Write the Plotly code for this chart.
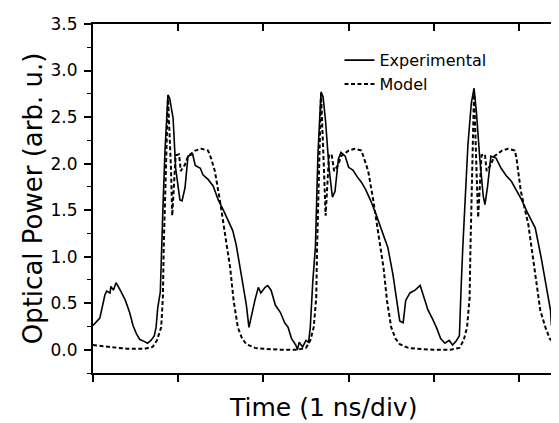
import plotly.graph_objects as go

# Time axis in ns (1 ns per division), optical power in arb. u.
exp_t = [
    0.00, 0.06, 0.08, 0.14, 0.16, 0.20, 0.21, 0.24, 0.27, 0.32, 0.38, 0.43, 0.47,
    0.51, 0.55, 0.60, 0.64, 0.68, 0.72, 0.74, 0.76, 0.79, 0.80, 0.82, 0.845, 0.87,
    0.88, 0.90, 0.94, 0.97, 1.02, 1.045, 1.08, 1.115, 1.17, 1.20, 1.26, 1.29, 1.35,
    1.41, 1.47, 1.53, 1.585, 1.64, 1.68, 1.725, 1.76, 1.80, 1.82, 1.83, 1.90, 1.94,
    1.97, 2.02, 2.05, 2.09, 2.14, 2.20, 2.25, 2.29, 2.33, 2.38, 2.40, 2.42, 2.46,
    2.50, 2.53, 2.55, 2.58, 2.61, 2.64, 2.676, 2.70, 2.73, 2.77, 2.81, 2.84, 2.88,
    2.91, 2.96, 3.00, 3.05, 3.10, 3.15, 3.20, 3.26, 3.32, 3.38, 3.44, 3.46, 3.52,
    3.556, 3.60, 3.64, 3.67, 3.72, 3.78, 3.84, 3.87, 3.93, 3.99, 4.03, 4.08, 4.13,
    4.18, 4.22, 4.26, 4.30, 4.32, 4.34, 4.40, 4.44, 4.472, 4.50, 4.54, 4.58, 4.60,
    4.63, 4.67, 4.73, 4.79, 4.85, 4.91, 4.97, 5.02, 5.10, 5.19, 5.26, 5.32, 5.37,
    5.38, 5.44, 5.50, 5.563,
]
exp_p = [
    0.26, 0.32, 0.34, 0.59, 0.63, 0.61, 0.68, 0.64, 0.72, 0.64, 0.53, 0.40, 0.26,
    0.17, 0.11, 0.09, 0.07, 0.10, 0.15, 0.24, 0.45, 0.62, 1.02, 1.50, 2.14, 2.67,
    2.74, 2.70, 2.49, 1.95, 1.61, 1.60, 1.74, 2.08, 2.10, 1.98, 1.95, 1.88, 1.83,
    1.76, 1.61, 1.50, 1.38, 1.28, 1.13, 0.91, 0.70, 0.48, 0.33, 0.24, 0.53, 0.67,
    0.61, 0.67, 0.69, 0.64, 0.48, 0.40, 0.29, 0.24, 0.12, 0.05, 0.00, 0.08, 0.03,
    0.10, 0.08, 0.24, 0.74, 1.10, 2.10, 2.77, 2.72, 2.45, 1.95, 1.64, 1.70, 2.05,
    2.12, 2.08, 1.96, 1.93, 1.86, 1.80, 1.72, 1.60, 1.46, 1.30, 1.13, 1.10, 0.81,
    0.56, 0.31, 0.29, 0.53, 0.61, 0.64, 0.69, 0.61, 0.43, 0.32, 0.24, 0.12, 0.07,
    0.10, 0.05, 0.09, 0.15, 0.66, 1.10, 2.20, 2.65, 2.81, 2.55, 2.05, 1.65, 1.56,
    1.75, 2.08, 2.06, 1.95, 1.87, 1.81, 1.72, 1.63, 1.47, 1.31, 0.99, 0.70, 0.42,
    0.26, 0.47, 0.56, 0.59,
]

model_t = [
    0.00, 0.10, 0.20, 0.30, 0.40, 0.50, 0.60, 0.70, 0.75, 0.80, 0.82, 0.83, 0.855,
    0.88, 0.915, 0.93, 0.97, 1.01, 1.03, 1.08, 1.115, 1.20, 1.27, 1.35, 1.385, 1.43,
    1.49, 1.55, 1.61, 1.65, 1.70, 1.75, 1.80, 1.90, 2.00, 2.20, 2.40, 2.50, 2.55,
    2.59, 2.62, 2.63, 2.65, 2.676, 2.71, 2.73, 2.77, 2.80, 2.83, 2.88, 2.91, 3.00,
    3.07, 3.15, 3.18, 3.23, 3.29, 3.35, 3.41, 3.45, 3.50, 3.55, 3.60, 3.70, 3.80,
    4.00, 4.20, 4.30, 4.35, 4.39, 4.42, 4.43, 4.45, 4.472, 4.50, 4.52, 4.56, 4.60,
    4.62, 4.67, 4.71, 4.80, 4.87, 4.95, 4.97, 5.02, 5.11, 5.19, 5.25, 5.31, 5.36,
    5.42, 5.50, 5.563,
]
model_p = [
    0.05, 0.04, 0.03, 0.02, 0.01, 0.01, 0.01, 0.03, 0.10, 0.24, 0.56, 1.10, 1.95,
    2.73, 1.95, 1.44, 2.09, 2.10, 1.92, 1.99, 2.08, 2.14, 2.16, 2.14, 2.06, 1.92,
    1.60, 1.24, 0.88, 0.53, 0.24, 0.12, 0.06, 0.02, 0.01, 0.00, 0.00, 0.02, 0.10,
    0.24, 0.56, 1.10, 1.95, 2.75, 1.95, 1.44, 2.09, 2.10, 1.92, 1.99, 2.08, 2.14,
    2.16, 2.14, 2.06, 1.92, 1.60, 1.24, 0.88, 0.53, 0.24, 0.12, 0.06, 0.02, 0.01,
    0.00, 0.00, 0.02, 0.10, 0.24, 0.56, 1.10, 1.95, 2.78, 1.95, 1.42, 2.09, 2.10,
    1.92, 1.99, 2.08, 2.14, 2.16, 2.14, 2.06, 1.71, 1.34, 0.81, 0.42, 0.24, 0.12,
    0.06, 0.03, 0.02,
]

x_ticks = [0, 1, 2, 3, 4, 5]
x_range = [0, 5.563]
y_range = [-0.25, 3.5]

FONT = "DejaVu Sans"

fig = go.Figure()
fig.add_trace(
    go.Scatter(
        x=exp_t, y=exp_p, mode="lines", name="Experimental",
        line=dict(color="black", width=1.6),
    )
)
fig.add_trace(
    go.Scatter(
        x=model_t, y=model_p, mode="lines", name="Model",
        line=dict(color="black", width=2, dash="4px,2.5px"),
    )
)
# empty trace so the mirrored top/right axes get drawn
fig.add_trace(
    go.Scatter(x=[None], y=[None], xaxis="x2", yaxis="y2", showlegend=False, hoverinfo="skip")
)

axis_common = dict(showgrid=False, zeroline=False, linecolor="black", tickcolor="black")

fig.update_layout(
    width=559,
    height=423,
    margin=dict(l=85, r=0, t=16, b=58),
    plot_bgcolor="white",
    paper_bgcolor="white",
    font=dict(family=FONT, color="black", size=17),
    xaxis=dict(
        range=x_range, tickvals=x_ticks, showticklabels=False,
        ticks="outside", ticklen=7, tickwidth=1.5,
        showline=True, linewidth=1.5, **axis_common,
    ),
    xaxis2=dict(
        range=x_range, tickvals=x_ticks, showticklabels=False, overlaying="x", side="top",
        ticks="inside", ticklen=7, tickwidth=1.5,
        showline=True, linewidth=1.5, **axis_common,
    ),
    yaxis=dict(
        range=y_range, tick0=0, dtick=0.5, tickformat=".1f",
        ticks="outside", ticklen=7, tickwidth=1.5,
        minor=dict(dtick=0.25, tick0=0, ticks="outside", ticklen=4, tickwidth=1.2, tickcolor="black"),
        showline=True, linewidth=2, ticklabelstandoff=3,
        tickfont=dict(family=FONT, size=17),
        **axis_common,
    ),
    yaxis2=dict(
        range=y_range, tick0=0, dtick=0.5, showticklabels=False, overlaying="y", side="right",
        ticks="inside", ticklen=6, tickwidth=1.5,
        minor=dict(dtick=0.25, tick0=0, ticks="inside", ticklen=3, tickwidth=1.2, tickcolor="black"),
        showline=False, **axis_common,
    ),
    legend=dict(
        x=0.52, y=0.945, xanchor="left", yanchor="top",
        bgcolor="rgba(0,0,0,0)", font=dict(family=FONT, size=16),
        tracegroupgap=0, itemwidth=30,
    ),
    annotations=[
        dict(
            text="Time (1 ns/div)", xref="paper", yref="paper", x=0.485, y=-0.1,
            xanchor="center", yanchor="middle", showarrow=False,
            font=dict(family=FONT, size=25),
        ),
        dict(
            text="Optical Power (arb. u.)", xref="paper", yref="paper", x=-0.127, y=0.5,
            xanchor="center", yanchor="middle", textangle=-90, showarrow=False,
            font=dict(family=FONT, size=26),
        ),
    ],
)

fig.write_html("out.html")
